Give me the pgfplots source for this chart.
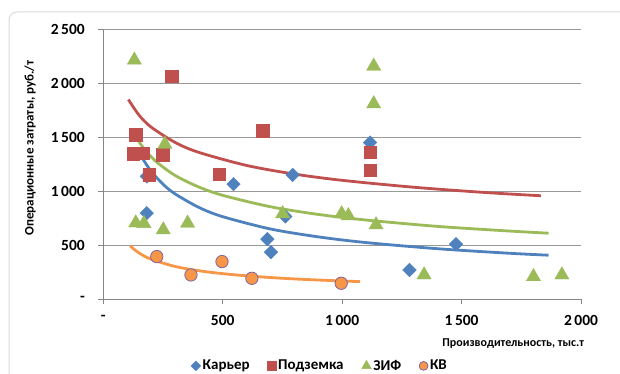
\documentclass[border=0pt]{standalone}
\usepackage{fontspec}
\setmainfont{Carlito}
\usepackage{pgfplots}
\pgfplotsset{compat=1.18}

\definecolor{kar}{HTML}{4F81BD}
\definecolor{pod}{HTML}{C0504D}
\definecolor{zif}{HTML}{9BBB59}
\definecolor{kv}{HTML}{F79646}
\definecolor{kvedge}{HTML}{8064A2}
\definecolor{axgray}{HTML}{868686}
\definecolor{framegray}{HTML}{D9D9D9}

\begin{document}
\begin{tikzpicture}[x=1pt,y=1pt]
\useasboundingbox (0,0) rectangle (620,374);
% chart area frame
\draw[framegray, line width=1pt, rounded corners=8pt] (9,-20) -- (9,362) -- (660,362);
\begin{axis}[
  at={(103.3pt,75pt)}, anchor=south west,
  scale only axis, width=477.7pt, height=269.7pt,
  xmin=0, xmax=2000, ymin=0, ymax=2500,
  axis lines*=left,
  axis line style={axgray, line width=0.9pt},
  tick align=outside, major tick length=5pt,
  tick style={axgray, line width=0.9pt},
  xtick={0,500,1000,1500,2000},
  xticklabels={-,500,1\,000,1\,500,2\,000},
  ytick={0,500,1000,1500,2000,2500},
  yticklabels={-,500,1\,000,1\,500,2\,000,2\,500},
  ymajorgrids, grid style={axgray!85, line width=0.9pt},
  ticklabel style={font=\bfseries\fontsize{15.5}{17}\selectfont},
  xticklabel style={yshift=-8pt},
  yticklabel style={xshift=-10pt},
  xlabel={Производительность, тыс.т},
  xlabel style={at={(axis description cs:0.858,-0.167)}, anchor=center,
    font=\bfseries\fontsize{12}{14}\selectfont},
  ylabel={Операционные затраты, руб./т},
  ylabel style={at={(axis description cs:-0.153,0.56)}, anchor=center,
    font=\bfseries\fontsize{13}{15}\selectfont},
  legend style={at={(axis description cs:0.4536,-0.248)}, anchor=center,
    draw=none, font=\bfseries\fontsize{15}{17}\selectfont,
    /tikz/every even column/.append style={column sep=16pt}},
  legend columns=4,
  clip=false,
]

% power trendlines
\addplot[pod, line width=2.8pt, smooth, forget plot] coordinates {
(105,1849) (150,1703) (200,1594) (300,1452) (400,1359) (600,1238)
(800,1158) (1000,1100) (1300,1036) (1600,987) (1832,957)};
\addplot[zif, line width=2.8pt, smooth, forget plot] coordinates {
(137,1502) (170,1394) (220,1276) (300,1146) (400,1038) (500,961)
(700,855) (900,784) (1100,732) (1400,673) (1700,630) (1864,610)};
\addplot[kar, line width=2.8pt, smooth, forget plot] coordinates {
(163,1307) (200,1185) (250,1064) (300,975) (400,849) (500,763)
(700,649) (900,576) (1100,523) (1400,466) (1700,424) (1864,406)};
\addplot[kv, line width=2.8pt, smooth, forget plot] coordinates {
(112,492) (150,426) (200,369) (300,302) (400,262) (500,235) (600,215)
(700,199) (800,186) (900,176) (1000,167) (1075,161)};

% Карьер
\addplot[only marks, mark=square*, mark size=4.8pt, forget plot,
  mark options={rotate=45, fill=kar, draw=kar}] coordinates {
(182,1136) (182,796) (545,1065) (793,1150) (687,555) (702,434)
(762,765) (1117,1450) (1282,269) (1477,508)};
% Подземка
\addplot[only marks, mark=square*, mark size=6.2pt, forget plot,
  mark options={fill=pod, draw=pod}] coordinates {
(126,1347) (168,1350) (136,1524) (249,1338) (193,1152) (286,2065)
(486,1158) (668,1561) (1117,1359) (1117,1192)};
% ЗИФ
\addplot[only marks, mark=triangle*, mark size=8.2pt, forget plot,
  mark options={fill=zif, draw=zif}] coordinates {
(130,2214) (258,1435) (136,705) (170,700) (251,641) (353,703)
(751,790) (998,790) (1026,772) (1132,2158) (1132,1809) (1142,687)
(1343,223) (1801,207) (1920,223)};
% КВ
\addplot[only marks, mark=*, mark size=6.2pt, forget plot,
  mark options={fill=kv, draw=kvedge, line width=0.8pt}] coordinates {
(224,393) (367,223) (497,347) (622,192) (996,146)};

% legend with smaller symbols
\addlegendimage{only marks, mark=square*, mark size=3.4pt,
  mark options={rotate=45, fill=kar, draw=kar}}
\addlegendentry{Карьер}
\addlegendimage{only marks, mark=square*, mark size=4.3pt,
  mark options={fill=pod, draw=pod}}
\addlegendentry{Подземка}
\addlegendimage{only marks, mark=triangle*, mark size=5.6pt,
  mark options={fill=zif, draw=zif}}
\addlegendentry{ЗИФ}
\addlegendimage{only marks, mark=*, mark size=4.4pt,
  mark options={fill=kv, draw=kvedge, line width=0.8pt}}
\addlegendentry{КВ}
\end{axis}
\end{tikzpicture}
\end{document}
